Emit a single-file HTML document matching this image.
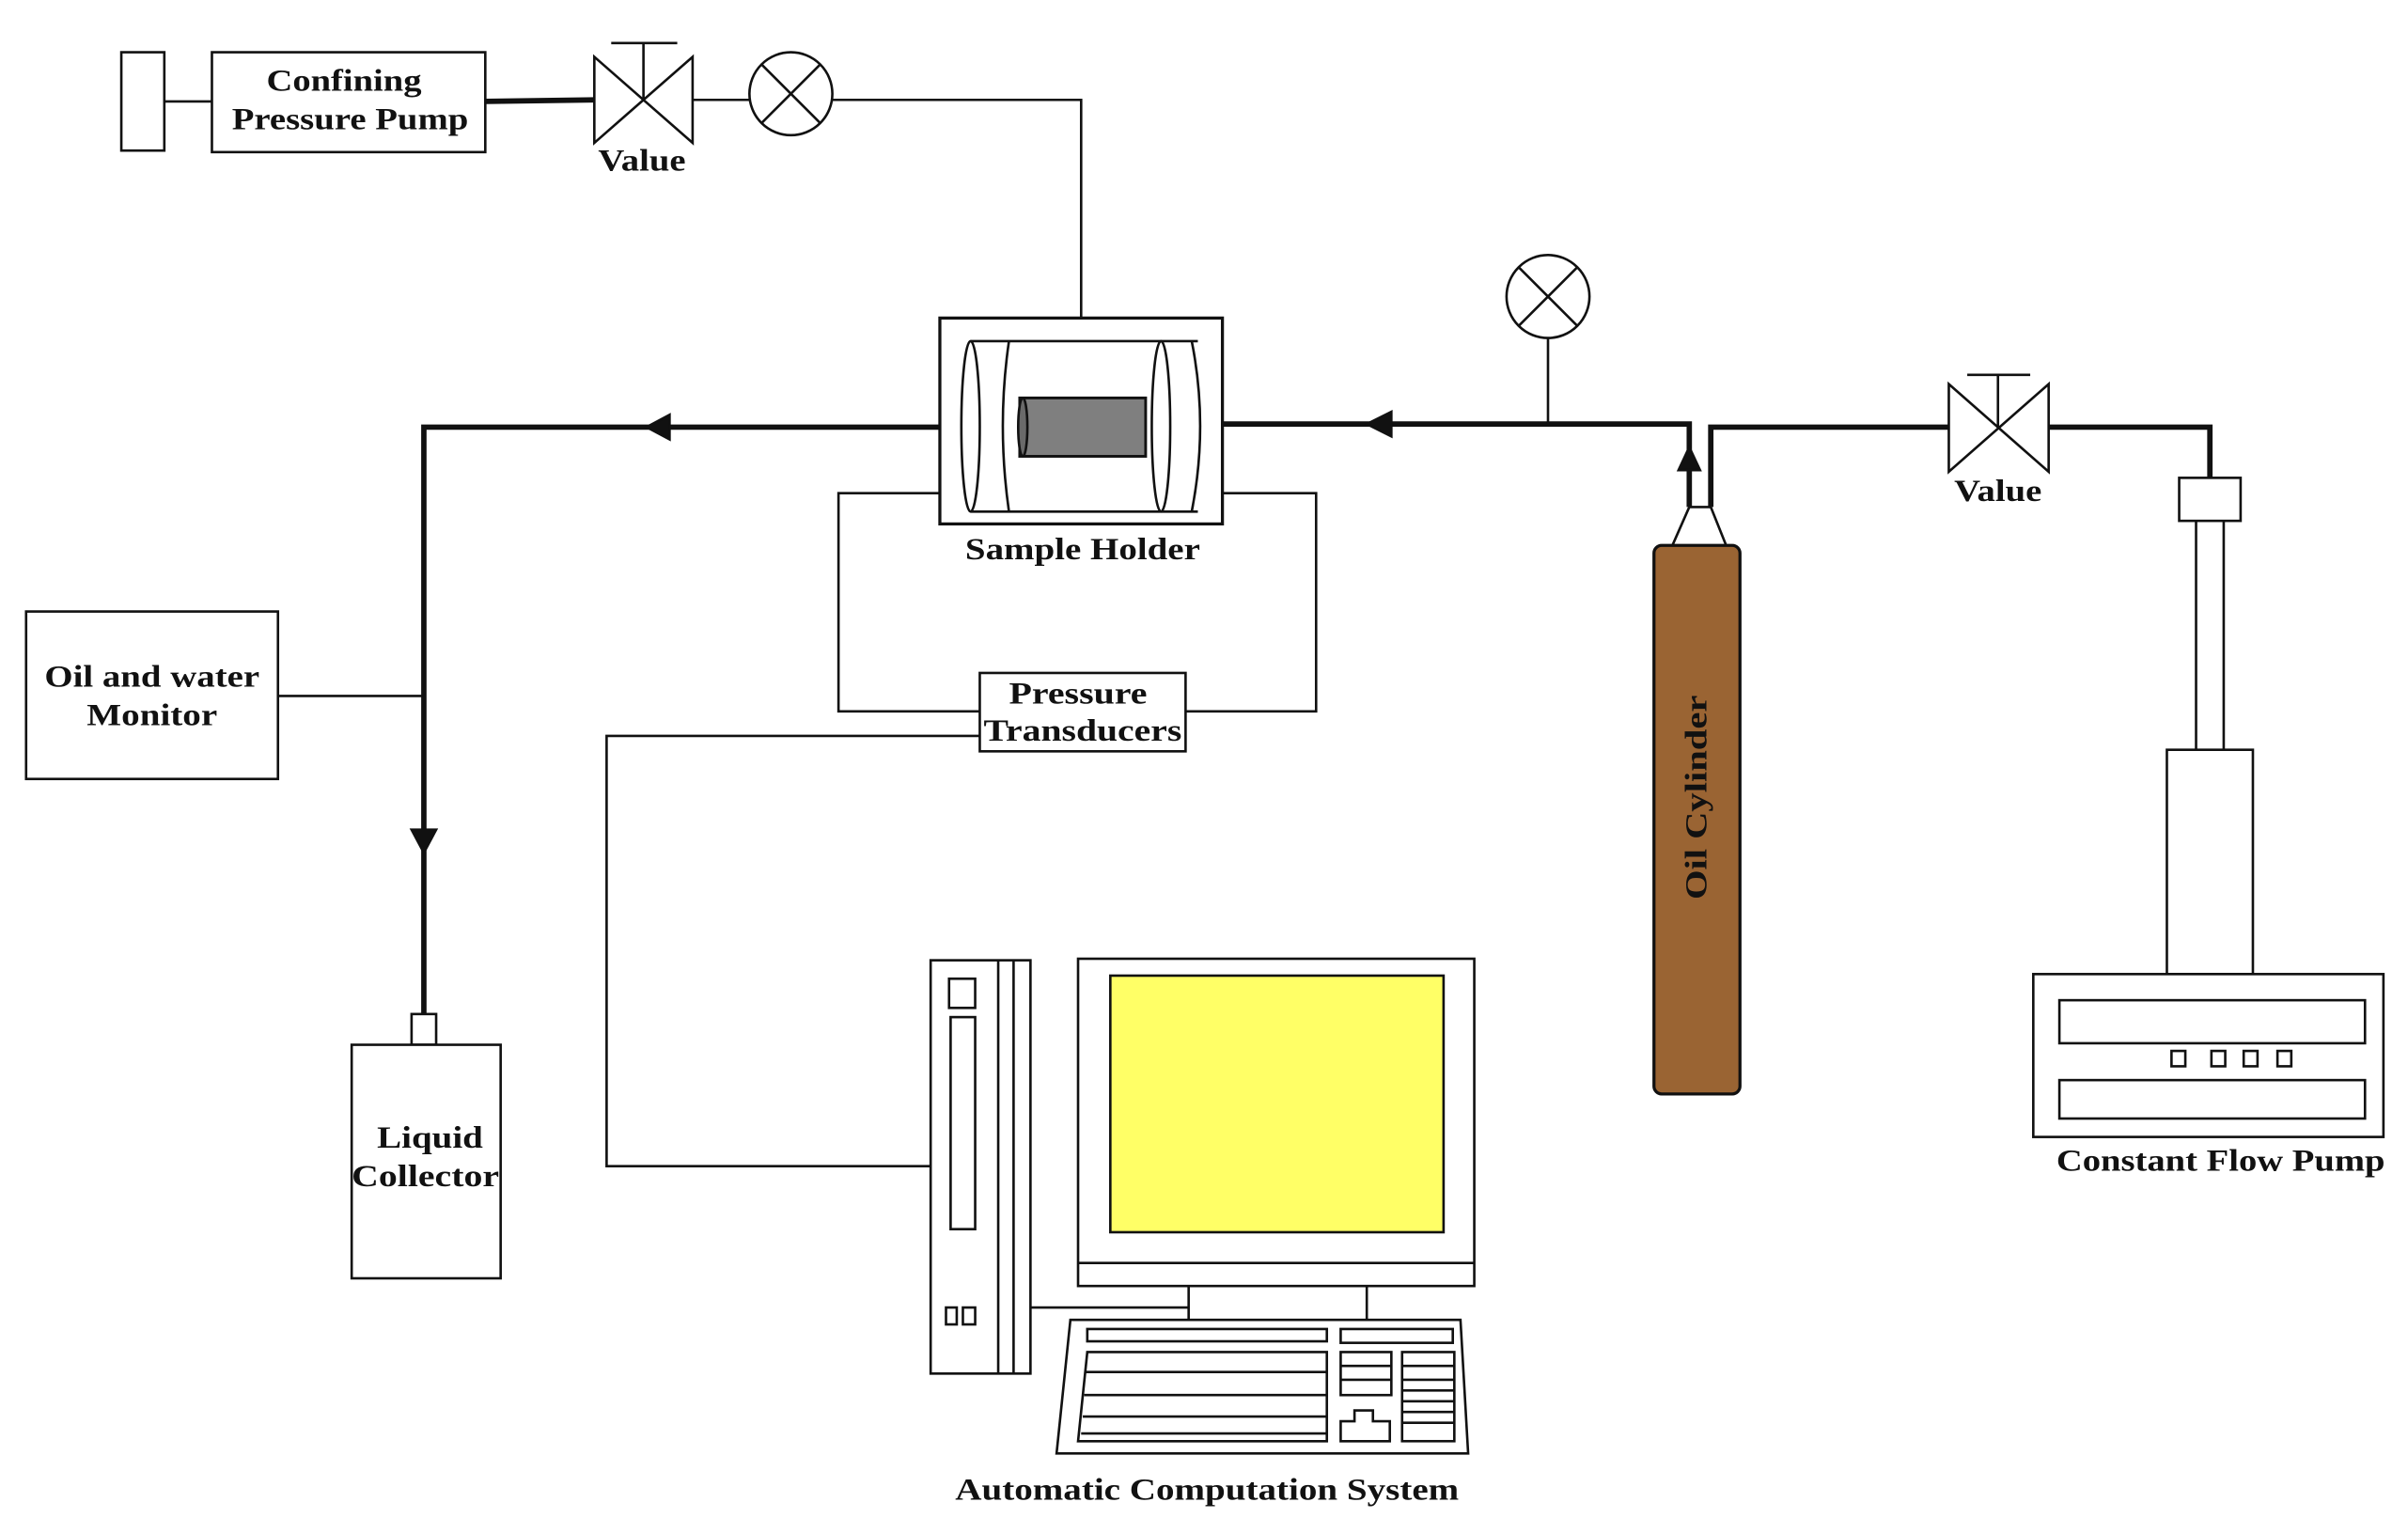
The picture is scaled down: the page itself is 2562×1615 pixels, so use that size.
<!DOCTYPE html>
<html><head><meta charset="utf-8"><style>
html,body{margin:0;padding:0;background:#fff;}
svg{display:block;}
text{font-family:"Liberation Serif",serif;font-weight:bold;font-size:20px;fill:#111;text-anchor:middle;}
</style></head><body>
<svg width="2562" height="1615" viewBox="0 0 1568 988" preserveAspectRatio="none" xmlns="http://www.w3.org/2000/svg">
<rect x="0" y="0" width="1568" height="988" fill="#fff"/>
<g stroke="#111" stroke-width="1.6" fill="none">
<rect x="79" y="34" width="28" height="64" fill="#fff"/>
<line x1="107" y1="66" x2="138" y2="66"/>
<rect x="138" y="34" width="178" height="65" fill="#fff"/>
<line x1="316" y1="66" x2="387" y2="65" stroke-width="3.5"/>
<path d="M387,37 L451,93 L451,37 L387,93 Z" fill="#fff"/>
<line x1="419" y1="65" x2="419" y2="28"/><line x1="398" y1="28" x2="441" y2="28"/>
<line x1="451" y1="65" x2="488" y2="65"/>
<circle cx="515" cy="61" r="27" fill="#fff"/>
<line x1="496" y1="42" x2="534" y2="80"/><line x1="534" y1="42" x2="496" y2="80"/>
<polyline points="542,65 704,65 704,207"/>
<rect x="612" y="207" width="184" height="134" fill="#fff" stroke-width="2"/>
<line x1="632" y1="222" x2="780" y2="222"/><line x1="632" y1="333" x2="780" y2="333"/>
<ellipse cx="632" cy="277.5" rx="6" ry="55.5"/>
<path d="M657,222 Q649,277 657,333"/>
<ellipse cx="756" cy="277.5" rx="6" ry="55.5"/>
<path d="M776,222 Q787,277 776,333"/>
<rect x="664" y="259" width="82" height="38" fill="#7f7f7f" stroke-width="1.8"/>
<ellipse cx="666" cy="278" rx="3" ry="19" fill="#6a6a6a"/>
<polyline points="612,278 276,278 276,660" stroke-width="3.5"/>
<path d="M421,278 L436,270 L436,286 Z" fill="#111"/>
<path d="M276,555 L268,540 L284,540 Z" fill="#111"/>
<rect x="17" y="398" width="164" height="109" fill="#fff"/>
<line x1="181" y1="453" x2="276" y2="453"/>
<rect x="268" y="660" width="16" height="20" fill="#fff"/>
<rect x="229" y="680" width="97" height="152" fill="#fff"/>
<polyline points="796,276 1100,276 1100,330" stroke-width="3.5"/>
<path d="M890,276 L906,268 L906,284 Z" fill="#111"/>
<path d="M1100,291 L1093,306 L1107,306 Z" fill="#111"/>
<polyline points="1114,330 1114,278 1269,278" stroke-width="3.5"/>
<line x1="1008" y1="220" x2="1008" y2="276"/>
<circle cx="1008" cy="193" r="27" fill="#fff"/>
<line x1="989" y1="174" x2="1027" y2="212"/><line x1="1027" y1="174" x2="989" y2="212"/>
<line x1="1100" y1="330" x2="1114" y2="330"/>
<path d="M1100,330 L1089,355 M1114,330 L1124,355"/>
<rect x="1077" y="355" width="56" height="357" rx="5" fill="#9a6433" stroke-width="2"/>
<path d="M1269,250 L1334,307 L1334,250 L1269,307 Z" fill="#fff"/>
<line x1="1301" y1="278" x2="1301" y2="244"/><line x1="1281" y1="244" x2="1322" y2="244"/>
<polyline points="1334,278 1439,278 1439,311" stroke-width="3.5"/>
<rect x="1419" y="311" width="40" height="28" fill="#fff"/>
<line x1="1430" y1="339" x2="1430" y2="488"/><line x1="1448" y1="339" x2="1448" y2="488"/>
<rect x="1411" y="488" width="56" height="146" fill="#fff"/>
<rect x="1324" y="634" width="228" height="106" fill="#fff"/>
<rect x="1341" y="651" width="199" height="28"/>
<rect x="1341" y="703" width="199" height="25"/>
<rect x="1414" y="684" width="9" height="10"/><rect x="1440" y="684" width="9" height="10"/>
<rect x="1461" y="684" width="9" height="10"/><rect x="1483" y="684" width="9" height="10"/>
<polyline points="612,321 546,321 546,463 638,463"/>
<polyline points="796,321 857,321 857,463 772,463"/>
<rect x="638" y="438" width="134" height="51" fill="#fff"/>
<polyline points="638,479 395,479 395,759 606,759"/>
<rect x="606" y="625" width="65" height="269" fill="#fff"/>
<line x1="650" y1="625" x2="650" y2="894"/><line x1="660" y1="625" x2="660" y2="894"/>
<rect x="618" y="637" width="17" height="19"/>
<rect x="619" y="662" width="16" height="138"/>
<rect x="616" y="851" width="7" height="11"/><rect x="627" y="851" width="8" height="11"/>
<rect x="702" y="624" width="258" height="213" fill="#fff"/>
<rect x="723" y="635" width="217" height="167" fill="#ffff66"/>
<line x1="702" y1="822" x2="960" y2="822"/>
<line x1="774" y1="837" x2="774" y2="859"/><line x1="890" y1="837" x2="890" y2="859"/>
<line x1="671" y1="851" x2="774" y2="851"/>
<path d="M697,859 L951,859 L956,946 L688,946 Z" fill="#fff"/>
<rect x="708" y="865" width="156" height="8"/>
<rect x="873" y="865" width="73" height="9"/>
<path d="M708,880 L864,880 L864,938 L702,938 Z"/>
<line x1="707" y1="893" x2="864" y2="893"/><line x1="706" y1="908" x2="864" y2="908"/>
<line x1="705" y1="922" x2="864" y2="922"/><line x1="704" y1="933" x2="864" y2="933"/>
<rect x="873" y="880" width="33" height="28"/>
<line x1="873" y1="889" x2="906" y2="889"/><line x1="873" y1="898" x2="906" y2="898"/>
<path d="M873,938 L873,925 L882,925 L882,918 L894,918 L894,925 L905,925 L905,938 Z"/>
<rect x="913" y="880" width="34" height="58"/>
<line x1="913" y1="889" x2="947" y2="889"/><line x1="913" y1="898" x2="947" y2="898"/>
<line x1="913" y1="905" x2="947" y2="905"/><line x1="913" y1="912" x2="947" y2="912"/>
<line x1="913" y1="919" x2="947" y2="919"/><line x1="913" y1="926" x2="947" y2="926"/>
</g>
<text x="224" y="59" textLength="101" lengthAdjust="spacingAndGlyphs">Confining</text>
<text x="228" y="84" textLength="154" lengthAdjust="spacingAndGlyphs">Pressure Pump</text>
<text x="418" y="111" textLength="57" lengthAdjust="spacingAndGlyphs">Value</text>
<text x="705" y="364" textLength="153" lengthAdjust="spacingAndGlyphs">Sample Holder</text>
<text x="99" y="447" textLength="140" lengthAdjust="spacingAndGlyphs">Oil and water</text>
<text x="99" y="472" textLength="85" lengthAdjust="spacingAndGlyphs">Monitor</text>
<text x="280" y="747" textLength="69" lengthAdjust="spacingAndGlyphs">Liquid</text>
<text x="277" y="772" textLength="96" lengthAdjust="spacingAndGlyphs">Collector</text>
<text x="1301" y="326" textLength="57" lengthAdjust="spacingAndGlyphs">Value</text>
<text x="702" y="458" textLength="90" lengthAdjust="spacingAndGlyphs">Pressure</text>
<text x="705" y="482" textLength="129" lengthAdjust="spacingAndGlyphs">Transducers</text>
<text x="1446" y="762" textLength="214" lengthAdjust="spacingAndGlyphs">Constant Flow Pump</text>
<text x="786" y="976" textLength="328" lengthAdjust="spacingAndGlyphs">Automatic Computation System</text>
<text x="0" y="0" transform="translate(1111,519) rotate(-90)" textLength="133" lengthAdjust="spacingAndGlyphs">Oil  Cylinder</text>
</svg>
</body></html>
